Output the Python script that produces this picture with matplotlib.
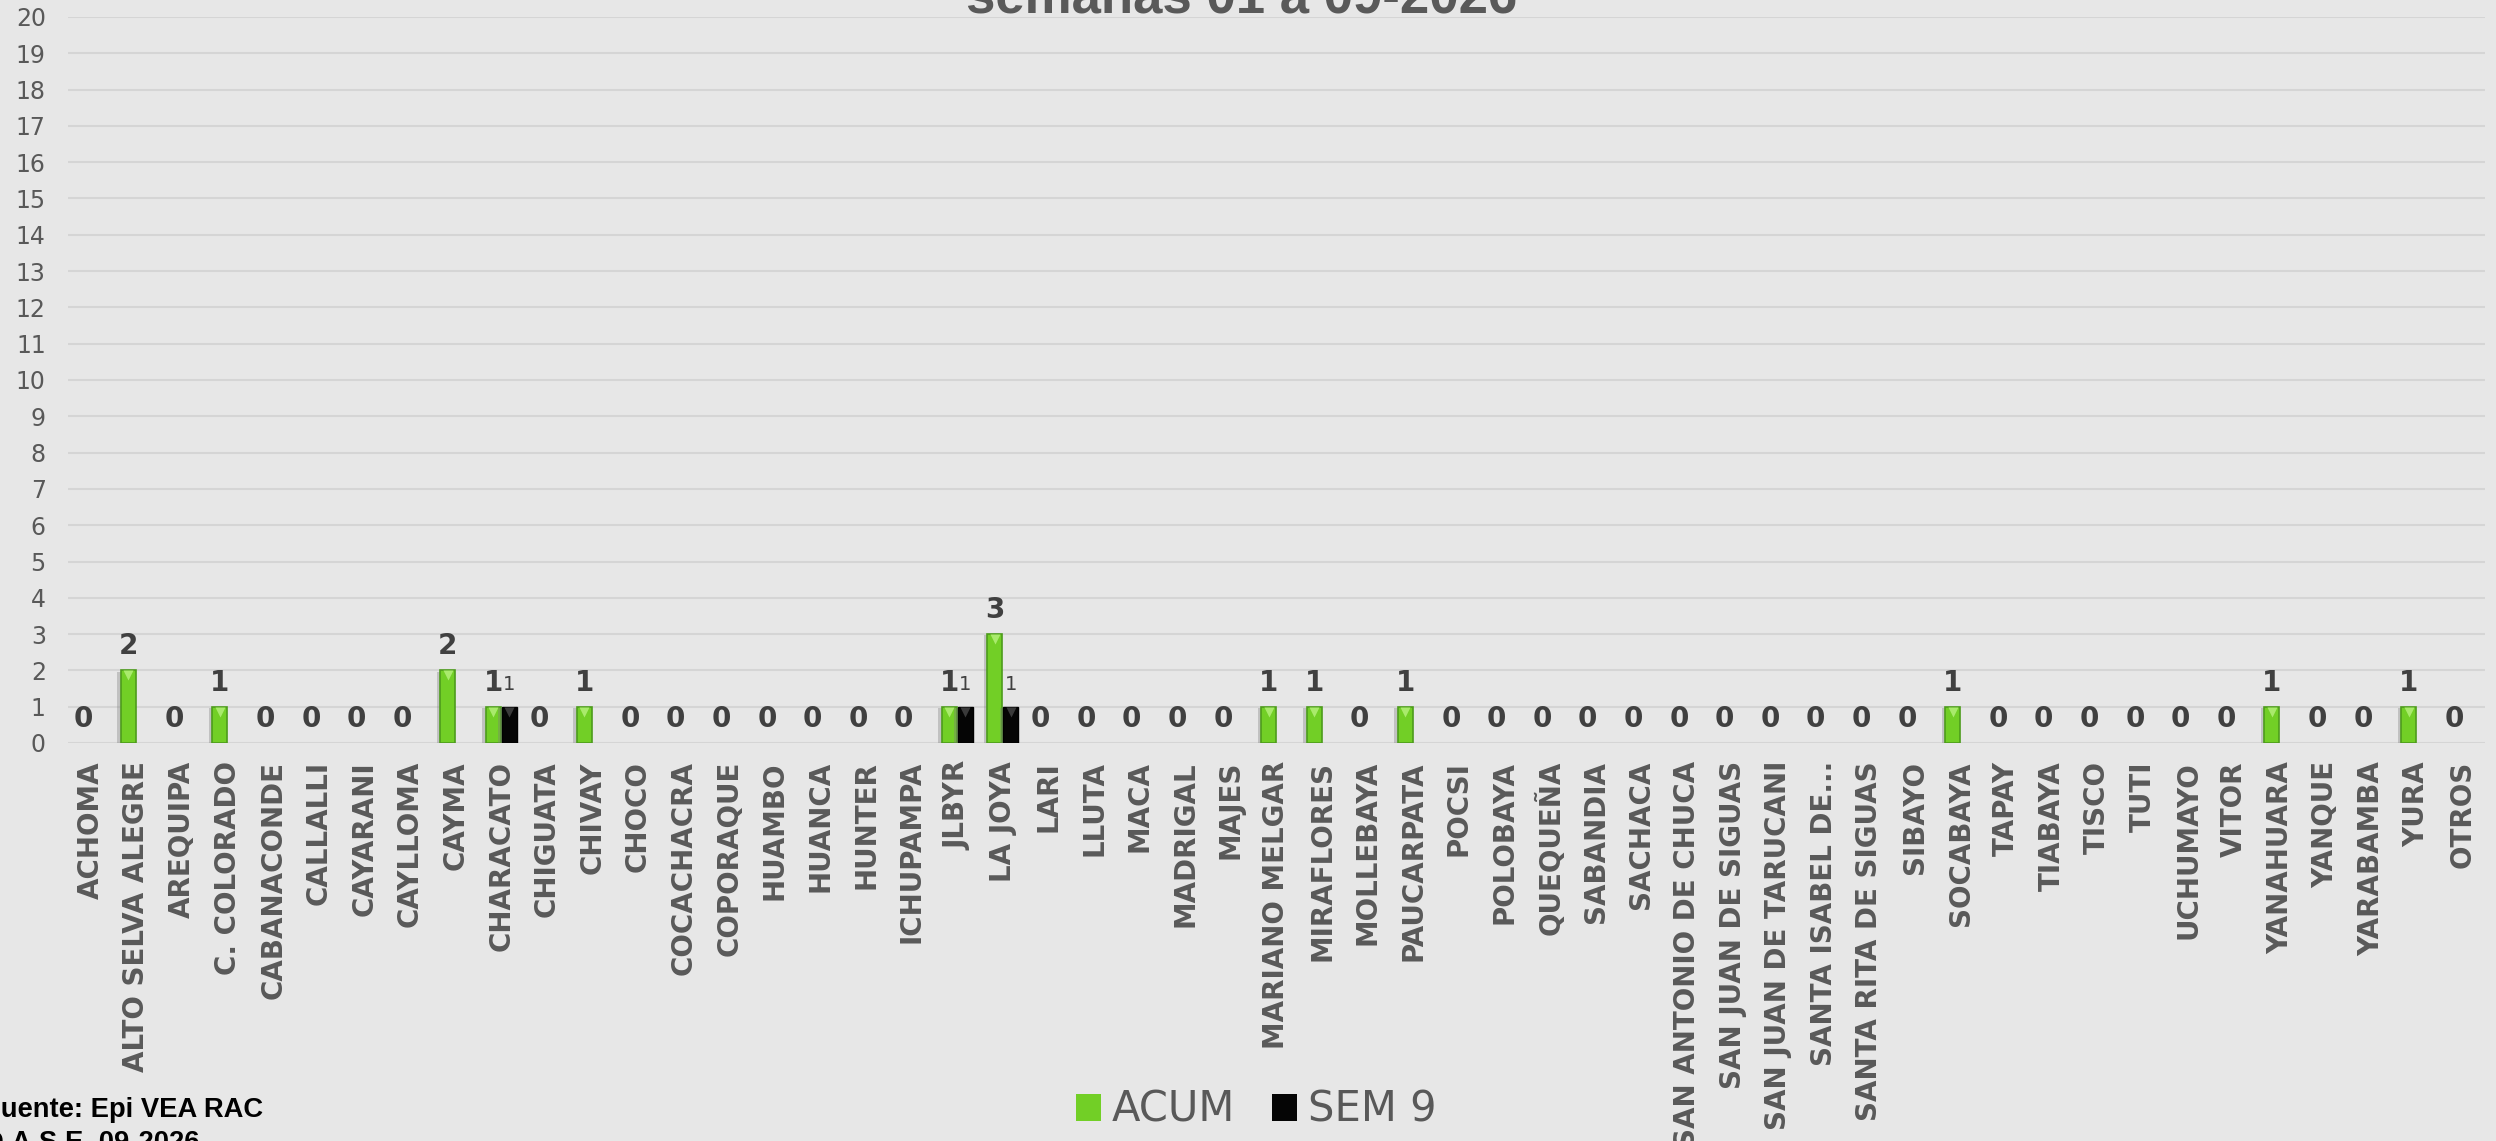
import numpy as np
import matplotlib
matplotlib.use("Agg")
import matplotlib.pyplot as plt
import matplotlib.patheffects as pe
from matplotlib.transforms import offset_copy

distritos = ["ACHOMA", "ALTO SELVA ALEGRE", "AREQUIPA", "C. COLORADO", "CABANACONDE",
             "CALLALLI", "CAYARANI", "CAYLLOMA", "CAYMA", "CHARACATO", "CHIGUATA",
             "CHIVAY", "CHOCO", "COCACHACRA", "COPORAQUE", "HUAMBO", "HUANCA", "HUNTER",
             "ICHUPAMPA", "JLBYR", "LA JOYA", "LARI", "LLUTA", "MACA", "MADRIGAL", "MAJES",
             "MARIANO MELGAR", "MIRAFLORES", "MOLLEBAYA", "PAUCARPATA", "POCSI", "POLOBAYA",
             "QUEQUEÑA", "SABANDIA", "SACHACA", "SAN ANTONIO DE CHUCA", "SAN JUAN DE SIGUAS",
             "SAN JUAN DE TARUCANI", "SANTA ISABEL DE...", "SANTA RITA DE SIGUAS", "SIBAYO",
             "SOCABAYA", "TAPAY", "TIABAYA", "TISCO", "TUTI", "UCHUMAYO", "VITOR",
             "YANAHUARA", "YANQUE", "YARABAMBA", "YURA", "OTROS"]

acum = [0, 2, 0, 1, 0, 0, 0, 0, 2, 1, 0, 1, 0, 0, 0, 0, 0, 0, 0, 1, 3, 0, 0, 0, 0, 0,
        1, 1, 0, 1, 0, 0, 0, 0, 0, 0, 0, 0, 0, 0, 0, 1, 0, 0, 0, 0, 0, 0, 1, 0, 0, 1, 0]

sem9 = [0, 0, 0, 0, 0, 0, 0, 0, 0, 1, 0, 0, 0, 0, 0, 0, 0, 0, 0, 1, 1, 0, 0, 0, 0, 0,
        0, 0, 0, 0, 0, 0, 0, 0, 0, 0, 0, 0, 0, 0, 0, 0, 0, 0, 0, 0, 0, 0, 0, 0, 0, 0, 0]

titulo = "semanas 01 a 09-2026"
fuente = ["Fuente: Epi VEA RAC", "D.A.S.E. 09-2026"]

bg = "#e7e7e7"
grey = "#595959"
dark = "#404040"
verde = "#72cf26"
verde_borde = "#4d9c1c"
negro = "#050505"

fig = plt.figure(figsize=(24.96, 11.41), dpi=100, facecolor=bg)
ax = fig.add_axes([68 / 2496, 1 - 743 / 1141, (2485 - 68) / 2496, (743 - 17) / 1141])
ax.set_facecolor(bg)

x = np.arange(len(distritos))
w = 0.33
off = 0.175

shadow = [pe.SimplePatchShadow(offset=(-2.5, -1), shadow_rgbFace="#7a7a7a", alpha=0.35), pe.Normal()]
b1 = ax.bar(x - off, acum, width=w, color=verde, edgecolor=verde_borde, linewidth=1.2,
            label="ACUM", zorder=3)
b2 = ax.bar(x + off, sem9, width=w, color=negro, edgecolor="#000000", linewidth=1.0,
            label="SEM 9", zorder=3)
for p in list(b1) + list(b2):
    if p.get_height() > 0:
        p.set_path_effects(shadow)
    else:
        p.set_linewidth(0)

# bevel tips on top of each bar
acum_a = np.array(acum)
sem9_a = np.array(sem9)
tip = offset_copy(ax.transData, fig=fig, x=0, y=-3.5, units="points")
m = acum_a > 0
ax.plot(x[m] - off, acum_a[m], ls="none", marker="v", ms=7, color="#a9ea6c",
        mec="none", transform=tip, zorder=4)
m = sem9_a > 0
ax.plot(x[m] + off, sem9_a[m], ls="none", marker="v", ms=7, color="#3a3a3a",
        mec="none", transform=tip, zorder=4)

for i, v in enumerate(acum):
    ax.annotate(str(v), (x[i] - off, v), xytext=(0, 11.5), textcoords="offset points",
                ha="center", va="baseline", fontsize=20, fontweight="bold", color=dark,
                zorder=5)
for i, v in enumerate(sem9):
    if v > 0:
        ax.annotate(str(v), (x[i] + off, v), xytext=(0, 12), textcoords="offset points",
                    ha="center", va="baseline", fontsize=14, color=dark, zorder=5)

ax.set_xlim(-0.5, len(distritos) - 0.5)
ax.set_ylim(0, 20)
ax.set_yticks(range(0, 21))
ax.set_xticks(x)
ax.set_xticklabels(distritos, rotation=90, fontsize=20, fontweight="bold", color=grey,
                   ha="center", va="top")
ax.tick_params(axis="x", length=0, pad=13)
ax.tick_params(axis="y", length=0, pad=16, labelsize=17, labelcolor=grey)
ax.grid(axis="y", color="#d5d5d5", linewidth=1.5, zorder=0)
ax.set_axisbelow(True)
for s in ax.spines.values():
    s.set_visible(False)

fig.legend(handles=[b1, b2], loc="center", bbox_to_anchor=(1256 / 2496, 1 - 1110 / 1141),
           ncol=2, frameon=False, fontsize=30, labelcolor=grey, handlelength=0.6,
           handleheight=0.6, handletextpad=0.25, columnspacing=0.9)

fig.text(1242 / 2496, 1 - 13 / 1141, titulo, ha="center", va="baseline", fontsize=38,
         fontweight="bold", family="Liberation Sans", color=grey)

fig.text(-16 / 2496, 1 - 1117 / 1141, fuente[0], ha="left", va="baseline", fontsize=19.7,
         fontweight="bold", family="Liberation Sans", color="black")
fig.text(-16 / 2496, 1 - 1150 / 1141, fuente[1], ha="left", va="baseline", fontsize=19.7,
         fontweight="bold", family="Liberation Sans", color="black")

fig.savefig("out.png", dpi=100, facecolor=bg)
